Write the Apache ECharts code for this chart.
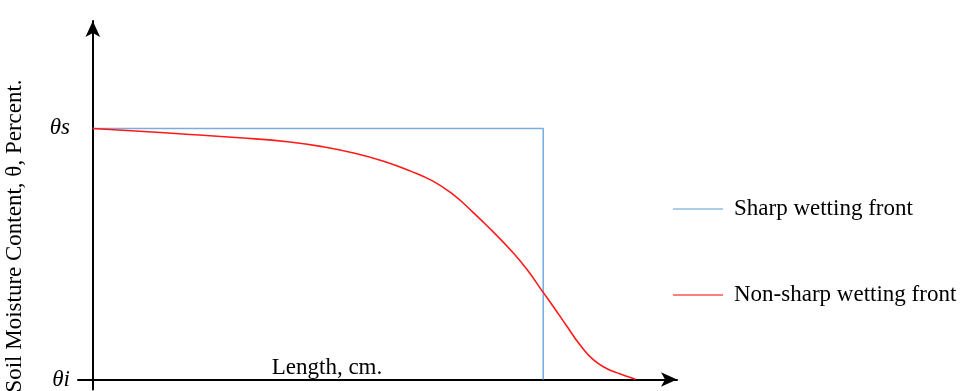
<!DOCTYPE html>
<html>
<head>
<meta charset="utf-8">
<script src="https://cdn.jsdelivr.net/npm/echarts@6/dist/echarts.min.js"></script>
<style>
  html, body { margin: 0; padding: 0; background: #fff; }
  #chart { width: 968px; height: 391px; }
</style>
</head>
<body>
<div id="chart"></div>
<script>
// Moisture profile along the soil column: length (x) vs. moisture (θi = 0, θs = 100)
const seriesNames = ['Sharp wetting front', 'Non-sharp wetting front'];
const sharpFront = [[0, 100], [76.1, 100], [76.1, 0]];
const gradualFront = [
  [0, 100], [7.9, 98.9], [16.4, 97.6], [24.8, 96.3], [33.3, 94.6],
  [38.9, 92.7], [44.6, 89.9], [49.0, 87.0], [53.6, 83.1], [57.4, 79.1],
  [60.8, 73.8], [64.2, 66.7], [67.6, 58.9], [70.5, 51.8], [73.3, 44.0],
  [76.0, 35.0], [77.7, 29.4], [80.1, 21.2], [82.3, 13.8], [84.5, 8.0],
  [86.8, 4.4], [89.0, 2.3], [91.2, 0.5], [91.7, 0]
];
const yTickValues = [0, 100];
const yTickLabels = { 0: 'θi', 100: 'θs' };

const serif = 'Liberation Serif';
const lineIcon = 'path://M0,0 L50,0 L50,1 L0,1 Z';
const chart = echarts.init(document.getElementById('chart'));

chart.setOption({
  animation: false,
  grid: { left: 78, right: 291, top: 21, bottom: 0, containLabel: false },
  xAxis: {
    type: 'value',
    min: -2.5,
    max: 98.7,
    axisLine: {
      show: true,
      onZero: true,
      symbol: ['none', 'arrow'],
      symbolSize: [11, 16],
      lineStyle: { color: '#000', width: 2 }
    },
    axisTick: { show: false },
    axisLabel: { show: false },
    splitLine: { show: false }
  },
  yAxis: {
    type: 'value',
    min: -4,
    max: 142.8,
    axisLine: {
      show: true,
      onZero: true,
      symbol: ['none', 'arrow'],
      symbolSize: [11, 16],
      lineStyle: { color: '#000', width: 2 }
    },
    axisTick: { show: false },
    axisLabel: {
      show: true,
      customValues: yTickValues,
      margin: 8,
      fontFamily: serif,
      fontStyle: 'italic',
      fontSize: 23,
      color: '#000',
      formatter: v => yTickLabels[v] || ''
    },
    splitLine: { show: false }
  },
  legend: {
    orient: 'vertical',
    left: 668,
    top: 192,
    itemWidth: 50,
    itemHeight: 2,
    itemGap: 62,
    textStyle: { fontFamily: serif, fontSize: 23, lineHeight: 24, color: '#000', padding: [0, 0, 0, 6] },
    data: [
      { name: seriesNames[0], icon: lineIcon, itemStyle: { color: '#5b9bd5' } },
      { name: seriesNames[1], icon: lineIcon, itemStyle: { color: '#ff0000' } }
    ]
  },
  graphic: [
    {
      type: 'text',
      x: 15,
      y: 236,
      rotation: Math.PI / 2,
      style: {
        text: 'Soil Moisture Content, θ, Percent.',
        fontFamily: serif,
        fontSize: 23,
        fill: '#000',
        align: 'center',
        verticalAlign: 'middle'
      }
    },
    {
      type: 'text',
      x: 327,
      y: 368,
      style: {
        text: 'Length, cm.',
        fontFamily: serif,
        fontSize: 23,
        fill: '#000',
        align: 'center',
        verticalAlign: 'middle'
      }
    }
  ],
  series: [
    {
      name: seriesNames[0],
      type: 'line',
      data: sharpFront,
      symbol: 'none',
      lineStyle: { color: '#7aaee0', width: 1.6 },
      itemStyle: { color: '#5b9bd5' },
      z: 3
    },
    {
      name: seriesNames[1],
      type: 'line',
      data: gradualFront,
      symbol: 'none',
      smooth: 0.5,
      lineStyle: { color: '#ff1a1a', width: 1.6 },
      itemStyle: { color: '#ff0000' },
      z: 4
    }
  ]
});
</script>
</body>
</html>
